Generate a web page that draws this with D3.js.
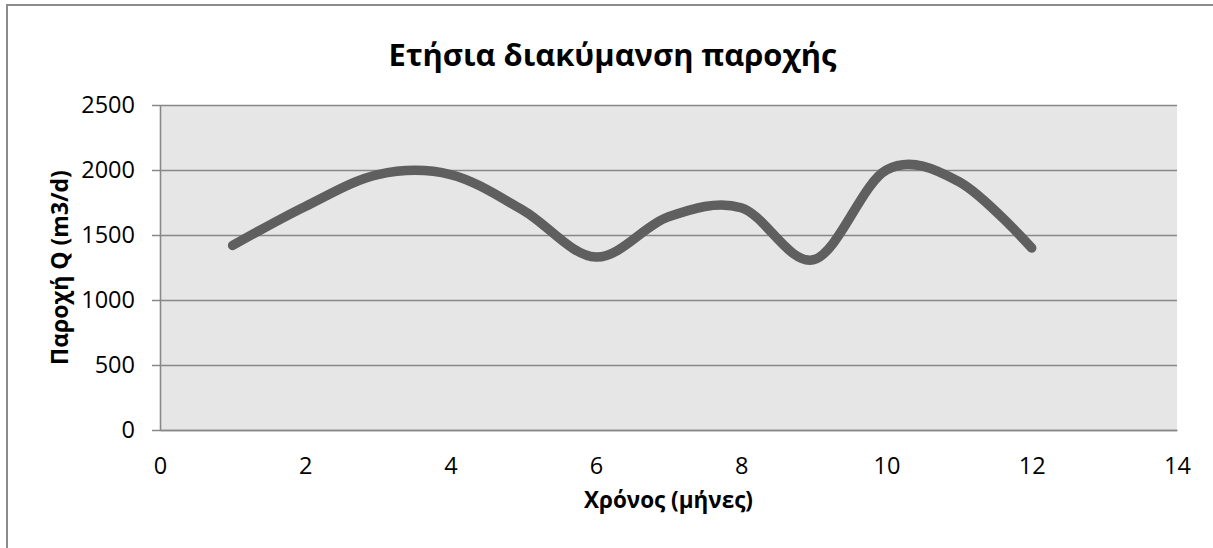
<!DOCTYPE html>
<html>
<head>
<meta charset="utf-8">
<script src="https://cdn.jsdelivr.net/npm/d3@7"></script>
<style>
  body { margin: 0; background: #fff; }
  text { font-family: "Open Sans", "Noto Sans", sans-serif; fill: #000; }
</style>
</head>
<body>
<svg id="chart"></svg>
<script>
// monthly flow values
const months = [1, 2, 3, 4, 5, 6, 7, 8, 9, 10, 11, 12];
const flow = [1420, 1720, 1965, 1965, 1690, 1330, 1640, 1710, 1310, 2000, 1910, 1400];
const xTicks = [0, 2, 4, 6, 8, 10, 12, 14];
const yTicks = [0, 500, 1000, 1500, 2000, 2500];

const chartTitle = "Ετήσια διακύμανση παροχής";
const xTitle = "Χρόνος (μήνες)";
const yTitle = "Παροχή Q (m3/d)";

const width = 1213,
  height = 548;
const margin = { top: 105, right: 36, bottom: 118, left: 160 };

const svg = d3.select("#chart").attr("width", width).attr("height", height);

// outer chart border (runs off the bottom/right of the picture)
svg
  .append("rect")
  .attr("x", 7)
  .attr("y", 5)
  .attr("width", width)
  .attr("height", height)
  .attr("fill", "none")
  .attr("stroke", "#8c8c8c")
  .attr("stroke-width", 2);

const x = d3
  .scaleLinear()
  .domain([0, 14])
  .range([margin.left, width - margin.right]);

const y = d3
  .scaleLinear()
  .domain([0, 2500])
  .range([height - margin.bottom, margin.top]);

// plot area
svg
  .append("rect")
  .attr("x", x(0))
  .attr("y", y(2500))
  .attr("width", x(14) - x(0))
  .attr("height", y(0) - y(2500))
  .attr("fill", "#e6e6e6");

// gridlines + small ticks left of the axis
const grid = svg
  .append("g")
  .attr("transform", `translate(${x(14)},0)`)
  .call(
    d3.axisLeft(y).tickValues(yTicks).tickSize(x(14) - x(0) + 8).tickFormat("")
  );
grid.select(".domain").remove();
grid.selectAll("line").attr("stroke", "#888").attr("stroke-width", 1.6);

// y axis
const yAxis = svg
  .append("g")
  .attr("transform", `translate(${x(0)},0)`)
  .call(
    d3
      .axisLeft(y)
      .tickValues(yTicks)
      .tickFormat(d3.format("d"))
      .tickSize(0)
      .tickPadding(25)
  );
yAxis.select(".domain").attr("stroke", "#888").attr("stroke-width", 1.6);
yAxis.selectAll("text").attr("font-size", 23.5).attr("font-family", "Open Sans");

// x axis
const xAxis = svg
  .append("g")
  .attr("transform", `translate(0,${y(0)})`)
  .call(
    d3
      .axisBottom(x)
      .tickValues(xTicks)
      .tickFormat(d3.format("d"))
      .tickSize(0)
      .tickPadding(27)
  );
xAxis.select(".domain").attr("stroke", "#888").attr("stroke-width", 1.6);
xAxis.selectAll("text").attr("font-size", 23.5).attr("font-family", "Open Sans");

// data line (Excel-style smoothed)
const line = d3
  .line()
  .x((d, i) => x(months[i]))
  .y((d) => y(d))
  .curve(d3.curveCardinal.tension(0));

svg
  .append("path")
  .datum(flow)
  .attr("d", line)
  .attr("fill", "none")
  .attr("stroke", "#5f5f5f")
  .attr("stroke-width", 9.5)
  .attr("stroke-linecap", "round")
  .attr("stroke-linejoin", "round");

// squeeze/stretch font size so the text covers the same width as in the picture
function fitText(sel, target) {
  const w = sel.node().getComputedTextLength();
  const fs = parseFloat(sel.attr("font-size"));
  sel.attr("font-size", (fs * target) / w);
}

// Labels
const title = svg
  .append("text")
  .attr("x", (x(0) + x(14)) / 2 - 56)
  .attr("y", 66)
  .attr("text-anchor", "middle")
  .attr("font-size", 30)
  .attr("font-weight", "bold")
  .text(chartTitle);
fitText(title, 448);

const xLabel = svg
  .append("text")
  .attr("x", (x(0) + x(14)) / 2)
  .attr("y", 508)
  .attr("text-anchor", "middle")
  .attr("font-size", 20)
  .attr("font-weight", "bold")
  .text(xTitle);
fitText(xLabel, 169);

const yLabel = svg
  .append("text")
  .attr("transform", `translate(68,${(y(0) + y(2500)) / 2}) rotate(-90)`)
  .attr("text-anchor", "middle")
  .attr("font-size", 20)
  .attr("font-weight", "bold")
  .text(yTitle);
fitText(yLabel, 195);
</script>
</body>
</html>
